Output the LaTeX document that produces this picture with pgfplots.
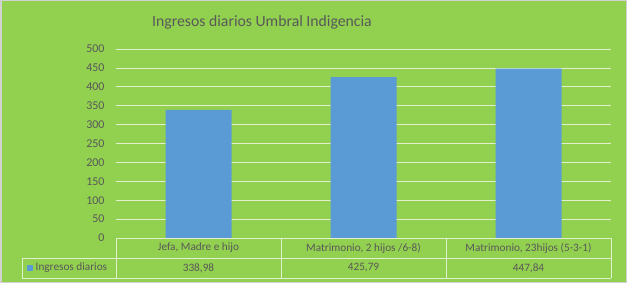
\documentclass[border=0pt]{standalone}
\usepackage{pgfplots}
\pgfplotsset{compat=1.18}
\usepackage{fontspec}
\setmainfont{Carlito}
\definecolor{bg}{HTML}{92D050}
\definecolor{barc}{HTML}{5B9BD5}
\definecolor{txt}{HTML}{595959}
\definecolor{gridc}{HTML}{E2EFD0}
\begin{document}
\begin{tikzpicture}[x=1bp,y=1bp]
\fill[bg] (0,0) rectangle (627,283);
\draw[line width=1.5bp, color=black!18] (0.75,0.75) rectangle (626.25,282.25);
\node[text=txt, font=\fontsize{15.8}{18}\selectfont] at (262,261) {Ingresos diarios Umbral Indigencia};
\begin{axis}[
  at={(116bp,45bp)}, anchor=south west,
  width=495bp, height=189bp, scale only axis,
  xmin=-0.5, xmax=2.5, ymin=0, ymax=500,
  ytick={0,50,...,500},
  xtick=\empty,
  ymajorgrids, grid style={gridc, line width=0.8bp},
  axis line style={draw=none},
  major tick length=0pt,
  yticklabel style={text=txt, font=\fontsize{12}{14}\selectfont, xshift=-8bp},
  /pgf/number format/assume math mode=true,
  clip=false,
]
\addplot[ybar, bar width=66bp, fill=barc, draw=none] coordinates {(0,338.98) (1,425.79) (2,447.84)};
\end{axis}
% data table
\begin{scope}[gridc, line width=0.8bp]
\draw (116,45) -- (611,45);
\draw (22,25) -- (611,25);
\draw (22,5) -- (611,5);
\draw (22,25) -- (22,5);
\foreach \x in {116,281,446,611} \draw (\x,45) -- (\x,5);
\end{scope}
\begin{scope}[text=txt, font=\fontsize{11.3}{13}\selectfont]
\node at (198.5,35) {Jefa, Madre e hijo};
\node at (363.5,35) {Matrimonio, 2 hijos /6-8)};
\node at (528.5,35) {Matrimonio, 23hijos (5-3-1)};
\node at (198.5,15) {338,98};
\node at (363.5,15) {425,79};
\node at (528.5,15) {447,84};
\fill[barc] (27,12) rectangle (33,18);
\node[anchor=west, inner sep=0pt] at (35.5,15) {Ingresos diarios};
\end{scope}
\end{tikzpicture}
\end{document}
